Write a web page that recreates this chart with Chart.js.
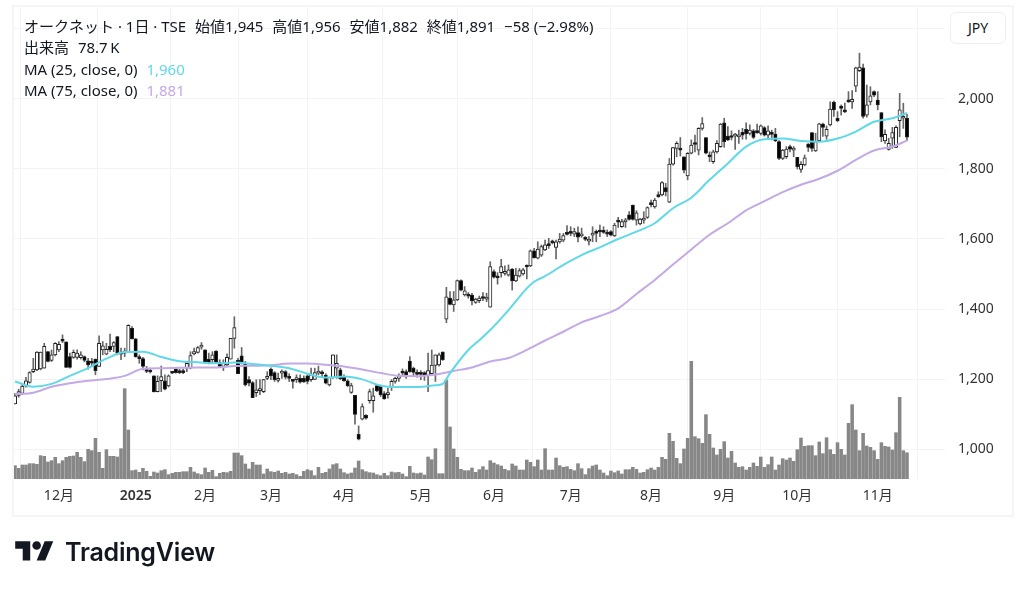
<!DOCTYPE html>
<html lang="ja">
<head>
<meta charset="utf-8">
<title>オークネット 1日</title>
<script src="https://cdn.jsdelivr.net/npm/chart.js@4"></script>
<style>
  html, body { margin: 0; padding: 0; background: #fff; }
  #wrap { position: relative; width: 1024px; height: 590px; overflow: hidden;
          font-family: "Noto Sans", "Noto Sans CJK JP", sans-serif; color: #131722; }
  canvas { position: absolute; left: 0; top: 0; }
  #frame { position: absolute; left: 12px; top: 5px; width: 998px; height: 508px; border: 2px solid #f5f5f5; }
  .row { position: absolute; left: 24px; font-size: 15px; line-height: 18px; white-space: nowrap; }
  .row span { margin-right: 5px; }
  #jpy { position: absolute; left: 950px; top: 12px; width: 54px; height: 30px; line-height: 30px; text-align: center;
         background: #fff; border: 1px solid #eeeeee; border-radius: 6px; font-size: 14px; }
  #logo { position: absolute; left: 15px; top: 537px; }
  #brand { position: absolute; left: 65px; top: 534px; font-family: Inter, sans-serif; font-weight: 600; font-size: 25px;
           line-height: 36px; color: #131722; letter-spacing: -0.2px; }
</style>
</head>
<body>
<div id="wrap">
  <canvas id="chart" width="1024" height="590"></canvas>
  <div id="frame"></div>
  <div class="row" style="top:17px"><span>オークネット · 1日 · TSE</span> <span>始値1,945</span> <span>高値1,956</span> <span>安値1,882</span> <span>終値1,891</span> <span>−58 (−2.98%)</span></div>
  <div class="row" style="top:38px"><span>出来高</span> <span>78.7&#8201;K</span></div>
  <div class="row" style="top:60px"><span>MA (25, close, 0)</span> <span style="color:#5fd9e8">1,960</span></div>
  <div class="row" style="top:81px"><span>MA (75, close, 0)</span> <span style="color:#c3a9e6">1,881</span></div>
  <div id="jpy">JPY</div>
  <svg id="logo" width="39" height="30" viewBox="0 0 36 28"><path fill="#131722" d="M14 22H7V11H0V4h14v18zM28 22h-8l7.5-18h8L28 22z"/><circle fill="#131722" cx="20" cy="8" r="4"/></svg>
  <div id="brand">TradingView</div>
</div>
<script>
var opens = [
  1129,1153,1159,1180,1190,1221,1226,1229,1231,1278,
  1253,1269,1283,1314,1306,1264,1262,1262,1261,1264,
  1252,1247,1257,1236,1283,1271,1293,1293,1321,1276,
  1274,1278,1345,1315,1264,1258,1228,1223,1209,1164,
  1195,1195,1180,1218,1228,1224,1224,1231,1231,1272,
  1276,1291,1283,1257,1255,1280,1247,1236,1240,1257,
  1316,1253,1266,1245,1198,1190,1161,1167,1164,1202,
  1228,1218,1196,1217,1221,1207,1195,1198,1202,1202,
  1209,1198,1199,1217,1219,1211,1183,1204,1231,1226,
  1205,1195,1162,1153,1042,1085,1096,1138,1138,1181,
  1181,1158,1155,1178,1193,1202,1219,1221,1251,1231,
  1215,1217,1218,1210,1215,1239,1240,1277,1371,1431,
  1412,1426,1481,1440,1440,1440,1419,1424,1435,1428,
  1405,1507,1492,1504,1502,1497,1514,1480,1494,1500,
  1522,1523,1566,1545,1554,1569,1586,1592,1576,1592,
  1597,1618,1619,1614,1618,1609,1601,1594,1611,1618,
  1624,1625,1620,1621,1609,1650,1635,1649,1669,1697,
  1654,1643,1654,1662,1700,1692,1724,1726,1747,1705,
  1814,1859,1857,1835,1780,1845,1874,1854,1916,1890,
  1837,1821,1849,1864,1932,1894,1895,1894,1892,1905,
  1913,1902,1909,1907,1902,1918,1897,1904,1900,1878,
  1830,1835,1864,1854,1833,1799,1812,1871,1904,1852,
  1881,1928,1894,1926,1991,1945,1980,1968,1997,1992,
  2037,2081,2089,1954,1992,2021,1997,1961,1880,1856,
  1888,1862,1938,1945,1945
];
var closes = [
  1152,1164,1180,1195,1218,1228,1277,1277,1293,1250,
  1269,1302,1299,1308,1233,1233,1276,1274,1269,1253,
  1240,1245,1224,1302,1295,1285,1283,1304,1272,1271,
  1278,1353,1315,1264,1258,1236,1222,1220,1163,1193,
  1207,1171,1209,1217,1218,1218,1218,1245,1267,1278,
  1290,1297,1247,1245,1269,1248,1236,1245,1262,1316,
  1347,1215,1245,1183,1188,1147,1169,1172,1198,1207,
  1209,1198,1202,1218,1205,1202,1193,1202,1191,1192,
  1193,1212,1218,1221,1215,1188,1205,1269,1245,1201,
  1195,1181,1181,1099,1028,1121,1088,1164,1152,1167,
  1155,1143,1161,1193,1202,1210,1217,1212,1221,1219,
  1213,1213,1209,1224,1240,1269,1269,1255,1435,1413,
  1426,1481,1454,1452,1437,1424,1428,1431,1430,1433,
  1521,1491,1489,1521,1507,1512,1480,1497,1510,1512,
  1520,1566,1547,1571,1578,1583,1581,1589,1592,1600,
  1610,1613,1616,1621,1605,1613,1599,1599,1616,1616,
  1620,1619,1614,1611,1640,1648,1650,1652,1656,1656,
  1675,1657,1659,1690,1698,1711,1721,1761,1735,1814,
  1861,1873,1854,1797,1845,1868,1870,1916,1930,1845,
  1835,1849,1873,1928,1878,1883,1890,1897,1897,1897,
  1900,1911,1890,1904,1923,1897,1909,1899,1881,1830,
  1854,1857,1857,1857,1807,1813,1832,1862,1859,1878,
  1929,1919,1913,1971,1969,1938,1973,1963,1992,1999,
  2089,2091,1950,1983,2009,2011,1983,1892,1899,1873,
  1904,1919,1969,1948,1891
];
var highs = [
  1159,1171,1188,1205,1221,1259,1278,1277,1302,1278,
  1283,1304,1307,1326,1306,1274,1283,1283,1278,1266,
  1259,1259,1257,1323,1307,1302,1328,1307,1321,1288,
  1288,1355,1350,1316,1269,1262,1236,1231,1209,1209,
  1237,1212,1212,1221,1231,1228,1228,1250,1278,1288,
  1293,1304,1283,1274,1278,1281,1255,1255,1272,1316,
  1378,1259,1290,1250,1207,1193,1198,1198,1199,1221,
  1232,1221,1217,1226,1224,1215,1198,1212,1212,1209,
  1212,1231,1231,1237,1224,1215,1205,1269,1269,1231,
  1212,1198,1188,1153,1066,1129,1098,1171,1174,1183,
  1183,1164,1174,1198,1205,1215,1229,1226,1264,1234,
  1226,1224,1221,1274,1283,1269,1274,1278,1462,1450,
  1450,1483,1483,1464,1447,1445,1431,1437,1447,1445,
  1535,1512,1504,1542,1523,1526,1516,1516,1516,1516,
  1526,1569,1573,1592,1583,1597,1602,1597,1597,1616,
  1616,1638,1635,1631,1635,1631,1607,1607,1635,1626,
  1640,1635,1626,1624,1645,1662,1656,1659,1678,1697,
  1681,1659,1678,1692,1711,1716,1735,1764,1759,1830,
  1862,1878,1890,1835,1847,1883,1897,1918,1947,1890,
  1849,1854,1881,1930,1945,1921,1909,1902,1911,1916,
  1932,1926,1913,1928,1926,1921,1923,1911,1916,1881,
  1856,1864,1868,1864,1833,1821,1840,1873,1904,1902,
  1931,1931,1923,1992,1994,1964,1983,1988,2021,2024,
  2091,2131,2100,2040,2035,2023,2021,1961,1912,1888,
  1919,1923,2016,1988,1956
];
var lows = [
  1129,1148,1155,1177,1188,1218,1224,1226,1231,1249,
  1250,1266,1278,1304,1233,1231,1259,1257,1257,1249,
  1228,1236,1212,1236,1269,1269,1278,1278,1269,1255,
  1264,1278,1314,1262,1245,1226,1218,1217,1163,1163,
  1164,1169,1177,1215,1217,1215,1215,1221,1229,1269,
  1274,1285,1245,1243,1245,1245,1234,1224,1236,1257,
  1288,1215,1243,1180,1180,1147,1150,1155,1161,1198,
  1198,1193,1191,1202,1200,1193,1174,1190,1188,1190,
  1186,1193,1198,1212,1205,1186,1180,1202,1202,1198,
  1193,1178,1159,1071,1026,1083,1085,1131,1105,1164,
  1150,1142,1145,1167,1188,1193,1209,1202,1219,1209,
  1205,1198,1196,1164,1212,1193,1237,1253,1361,1412,
  1393,1424,1452,1437,1431,1412,1416,1418,1424,1421,
  1405,1488,1471,1491,1497,1494,1454,1478,1491,1497,
  1486,1521,1545,1543,1550,1567,1573,1586,1543,1588,
  1592,1611,1609,1607,1592,1605,1595,1583,1592,1592,
  1607,1616,1607,1609,1607,1633,1633,1633,1654,1654,
  1640,1640,1645,1659,1692,1688,1719,1723,1723,1704,
  1811,1835,1837,1789,1769,1843,1849,1840,1911,1843,
  1821,1816,1845,1862,1862,1881,1883,1856,1873,1885,
  1885,1897,1887,1902,1897,1894,1887,1883,1878,1827,
  1827,1830,1849,1835,1800,1790,1809,1850,1850,1850,
  1880,1893,1885,1923,1950,1935,1954,1961,1990,1973,
  2021,2078,1945,1948,1983,2007,1969,1878,1873,1854,
  1859,1861,1892,1916,1882
];
// thousands of shares
var volumes = [
  40,32,42,42,46,46,44,70,68,51,
  55,65,46,55,65,68,69,80,65,52,
  89,85,122,80,32,88,68,68,66,91,
  271,147,25,27,20,32,23,8,21,18,
  25,28,13,17,20,20,22,22,35,21,
  16,13,33,20,26,7,17,20,19,23,
  78,78,70,45,30,50,42,42,15,30,
  22,20,24,17,20,15,17,13,8,23,
  28,25,10,35,17,20,30,43,46,30,
  19,15,18,33,54,28,22,19,18,13,
  10,17,10,21,19,20,15,7,38,18,
  16,18,12,66,58,91,16,16,297,156,
  90,65,29,25,25,33,20,28,37,27,
  55,48,43,39,29,25,45,39,27,27,
  57,50,37,57,27,91,27,27,63,40,
  35,37,29,25,46,31,13,31,39,42,
  27,18,10,24,19,24,15,28,28,35,
  29,18,20,28,33,27,35,65,59,137,
  113,62,46,90,122,353,127,121,107,193,
  134,93,72,89,112,63,83,48,35,37,
  27,35,48,38,66,35,43,66,27,42,
  61,57,63,53,88,123,98,100,100,70,
  111,76,124,88,74,109,89,72,167,223,
  147,85,137,99,95,85,59,109,98,96,
  87,139,245,85,78.7
];
var ma25Days = [0,5,10,15,20,25,30,35,40,45,50,55,60,65,70,75,80,85,90,95,100,105,110,115,117,119,124,127,130,135,140,142,145,150,155,160,165,170,175,180,185,190,195,200,205,210,215,220,225,230,235,240,244];
var ma25Values = [1193,1178,1186,1209,1231,1258,1277,1278,1263,1251,1248,1245,1247,1243,1238,1231,1215,1204,1207,1199,1181,1177,1177,1182,1186,1217,1283,1311,1340,1397,1459,1478,1494,1526,1554,1576,1600,1621,1645,1688,1718,1769,1816,1864,1885,1887,1880,1878,1887,1907,1935,1945,1960];
var ma75Days = [0,5,10,15,20,25,30,35,40,45,50,55,60,65,70,75,80,85,90,95,100,105,110,115,120,125,130,135,140,145,150,155,160,165,170,175,180,185,190,195,200,205,210,215,220,225,230,235,240,244];
var ma75Values = [1157,1161,1178,1188,1195,1200,1209,1229,1231,1232,1233,1233,1237,1238,1239,1244,1244,1241,1236,1227,1217,1209,1208,1213,1223,1233,1250,1260,1283,1310,1335,1362,1380,1402,1443,1483,1527,1570,1612,1645,1682,1708,1734,1755,1772,1795,1826,1853,1864,1881];
var monthDays = [12,33,52,70,90,111,131,152,174,194,214,236];
var monthLabels = ['12月','2025','2月','3月','4月','5月','6月','7月','8月','9月','10月','11月'];
var priceTicks = [1000,1200,1400,1600,1800,2000,2200];

var fontStack = '"Noto Sans", "Noto Sans CJK JP", sans-serif';
var gridColor = '#f3f3f3';

function isUp(i) { return closes[i] >= opens[i]; }

function points(values) {
    return values.map(function(v, i) { return { x: i, y: v }; });
}
function ranges(a, b) {
    return a.map(function(v, i) { return { x: i, y: [v, b[i]] }; });
}
function linePoints(days, values) {
    return days.map(function(d, i) { return { x: d, y: values[i] }; });
}

new Chart(document.getElementById('chart'), {
    type: 'bar',
    data: {
        datasets: [
            {
                type: 'line', data: linePoints(ma25Days, ma25Values), yAxisID: 'y',
                borderColor: '#5fd9e8', borderWidth: 2, pointRadius: 0,
                cubicInterpolationMode: 'monotone', order: 1
            },
            {
                type: 'line', data: linePoints(ma75Days, ma75Values), yAxisID: 'y',
                borderColor: '#c3a9e6', borderWidth: 2, pointRadius: 0,
                cubicInterpolationMode: 'monotone', order: 2
            },
            {
                data: ranges(opens, closes), yAxisID: 'y', grouped: false, order: 3,
                barThickness: 3.4, minBarLength: 2, borderSkipped: false, borderWidth: 1,
                borderColor: '#222',
                backgroundColor: function(ctx) { return isUp(ctx.dataIndex) ? '#fff' : '#000'; }
            },
            {
                data: ranges(lows, highs), yAxisID: 'y', grouped: false, order: 4,
                barThickness: 1, borderWidth: 0, backgroundColor: '#666'
            },
            {
                data: points(volumes), yAxisID: 'vol', grouped: false, order: 5,
                barThickness: 2.9, borderWidth: 0, backgroundColor: '#878787'
            }
        ]
    },
    options: {
        responsive: false,
        animation: false,
        devicePixelRatio: 1,
        layout: { padding: { left: 13, top: 6, right: 13, bottom: 76 } },
        plugins: { legend: { display: false }, tooltip: { enabled: false } },
        scales: {
            x: {
                type: 'linear', offset: false, bounds: 'data', min: -0.55, max: 254.4,
                grid: { color: gridColor, drawTicks: false },
                border: { display: false },
                afterBuildTicks: function(scale) {
                    scale.ticks = monthDays.map(function(d) { return { value: d }; });
                },
                afterFit: function(scale) {
                    scale.height = 35;
                    scale.paddingLeft = 0;
                    scale.paddingRight = 0;
                },
                ticks: {
                    autoSkip: false, maxRotation: 0, padding: 9, color: '#333',
                    font: function(ctx) {
                        var isYear = ctx.tick && monthLabels[monthDays.indexOf(ctx.tick.value)] === '2025';
                        return { family: fontStack, size: 14, weight: isYear ? '600' : '400' };
                    },
                    callback: function(v) { return monthLabels[monthDays.indexOf(v)]; }
                }
            },
            y: {
                position: 'right', bounds: 'data', min: 914.3, max: 2265.7,
                grid: { color: gridColor, drawTicks: false },
                border: { display: false },
                afterBuildTicks: function(scale) {
                    scale.ticks = priceTicks.map(function(v) { return { value: v }; });
                },
                afterFit: function(scale) {
                    // the hidden 2,200 label must not push the plot area down
                    scale.width = 66;
                    scale.paddingTop = 0;
                    scale.paddingBottom = 0;
                },
                ticks: {
                    padding: 13, color: '#333', font: { family: fontStack, size: 14 },
                    callback: function(v) { return v.toLocaleString('en-US'); }
                }
            },
            vol: { display: false, bounds: 'data', min: 0, max: 1419 }
        }
    }
});
</script>
</body>
</html>
